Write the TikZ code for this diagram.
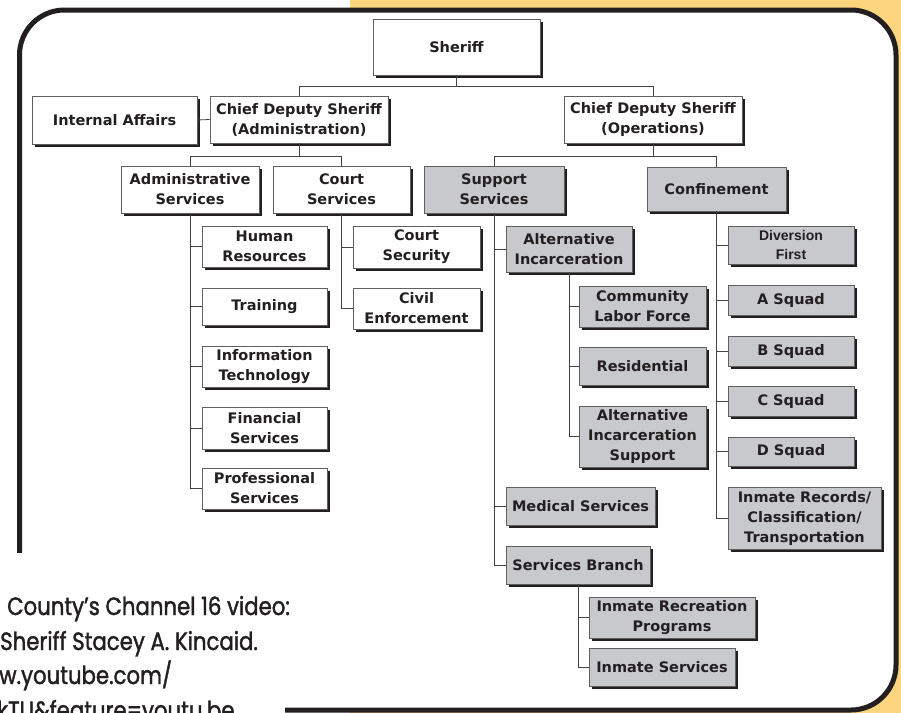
\documentclass[tikz,border=0pt]{standalone}
\usepackage{fontspec}
\setmainfont{DejaVu Sans}
\newfontfamily\arialfont{Liberation Sans}
\newfontfamily\futurafont[FakeStretch=0.85,FakeBold=1.5]{Poppins}
\usetikzlibrary{shadows}
\definecolor{ylw}{RGB}{253,213,127}
\definecolor{boxgray}{RGB}{200,201,204}
\definecolor{ink}{RGB}{35,31,32}
\definecolor{edgec}{RGB}{95,95,95}
\tikzset{
  box/.style={draw=edgec, line width=0.8pt, fill=white, text=ink,
    font=\fontsize{14.5}{20}\selectfont\bfseries, align=center, inner sep=0pt,
    drop shadow={shadow xshift=2.6pt, shadow yshift=-2.6pt, fill=ink, opacity=1}},
  gbox/.style={box, fill=boxgray},
  corners/.style n args={4}{at={({(#1+#3)/2},{(#2+#4)/2})},
    minimum width={(#3-#1)*1pt}, minimum height={(#4-#2)*1pt}},
  link/.style={draw=ink!85, line width=0.8pt},
  note/.style={anchor=base west, inner sep=0pt, text=ink,
    font=\futurafont\fontsize{25}{30}\selectfont},
}
\begin{document}
\begin{tikzpicture}[x=1pt,y=-1pt]
\useasboundingbox (0,0) rectangle (901,712);
\clip (0,0) rectangle (901,712);
% background
\fill[ylw] (350,-5) rectangle (906,717);
\draw[ink, line width=5pt, fill=white, rounded corners=45pt] (19.5,10) rectangle (896,710);
\fill[white] (-5,553) rectangle (285,720);
% top
\node[box, corners={373}{19}{540}{75}] (sheriff) {Sheriff};
\node[box, corners={32}{96}{197}{144}] (ia) {Internal Affairs};
\node[box, corners={210}{96}{388}{143}] (cda) {Chief Deputy Sheriff\\(Administration)};
\node[box, corners={564}{96}{742}{143}] (cdo) {Chief Deputy Sheriff\\(Operations)};
% admin side
\node[box, corners={121}{166}{259}{213}] (as) {Administrative\\Services};
\node[box, corners={273}{166}{410}{213}] (cs) {Court\\Services};
\node[box, corners={202}{226}{327}{267}] (hr) {Human\\Resources};
\node[box, corners={202}{288}{327}{325}] (tr) {Training};
\node[box, corners={202}{346}{327}{387}] (it) {Information\\Technology};
\node[box, corners={202}{407}{327}{449}] (fs) {Financial\\Services};
\node[box, corners={202}{468}{327}{509}] (ps) {Professional\\Services};
\node[box, corners={353}{226}{480}{268}] (csec) {Court\\Security};
\node[box, corners={353}{288}{480}{329}] (ce) {Civil\\Enforcement};
% operations side
\node[gbox, corners={424}{166}{564}{213}] (ss) {Support\\Services};
\node[gbox, corners={647}{167}{786}{211}] (conf) {Confinement};
\node[gbox, corners={506}{226}{632}{272}] (ai) {Alternative\\Incarceration};
\node[gbox, corners={579}{286}{706}{327}] (clf) {Community\\Labor Force};
\node[gbox, corners={579}{347}{706}{385}] (res) {Residential};
\node[gbox, corners={579}{406}{706}{467}] (ais) {Alternative\\Incarceration\\Support};
\node[gbox, corners={506}{487}{655}{525}] (med) {Medical Services};
\node[gbox, corners={506}{546}{650}{584}] (sb) {Services Branch};
\node[gbox, corners={589}{597}{755}{638}] (irp) {Inmate Recreation\\Programs};
\node[gbox, corners={589}{648}{735}{686}] (ins) {Inmate Services};
\node[gbox, corners={728}{226}{854}{264}, font=\arialfont\fontsize{14}{19}\selectfont\bfseries] (df) {Diversion\\First};
\node[gbox, corners={728}{285}{854}{315}] (sqa) {A Squad};
\node[gbox, corners={728}{336}{854}{366}] (sqb) {B Squad};
\node[gbox, corners={728}{386}{854}{416}] (sqc) {C Squad};
\node[gbox, corners={728}{437}{854}{466}] (sqd) {D Squad};
\node[gbox, corners={728}{487}{881}{549}] (irec) {Inmate Records/\\Classification/\\Transportation};
% connectors
\coordinate (bus0) at (457,86);
\coordinate (bus1) at (300,156);
\coordinate (bus2) at (654,156);
\draw[link] (sheriff.south) -- (sheriff.south |- bus0) -| (cda.north);
\draw[link] (sheriff.south |- bus0) -| (cdo.north);
\draw[link] (ia.east) -- (cda.west);
\draw[link] (cda.south) -- (cda.south |- bus1) -| (as.north);
\draw[link] (cda.south |- bus1) -| (cs.north);
\draw[link] (cdo.south) -- (cdo.south |- bus2) -| (ss.north);
\draw[link] (cdo.south |- bus2) -| (conf.north);
\foreach \c in {hr,tr,it,fs,ps} \draw[link] (as.south) |- (\c.west);
\foreach \c in {csec,ce} \draw[link] (cs.south) |- (\c.west);
\foreach \c in {ai,med,sb} \draw[link] (ss.south) |- (\c.west);
\foreach \c in {clf,res,ais} \draw[link] (ai.south) |- (\c.west);
\foreach \c in {irp,ins} \draw[link] (sb.south) |- (\c.west);
\foreach \c in {df,sqa,sqb,sqc,sqd,irec} \draw[link] (conf.south) |- (\c.west);
% caption
\node[note] (n1) at (7,615) {County’s Channel 16 video:};
\node[note] (n2) at (0,650) {Sheriff Stacey A. Kincaid.};
\node[note] (n3) at (-1,684) {w.youtube.com/};
\node[note] (n4) at (-3,719) {kTU\&feature=youtu.be};
\end{tikzpicture}
\end{document}
